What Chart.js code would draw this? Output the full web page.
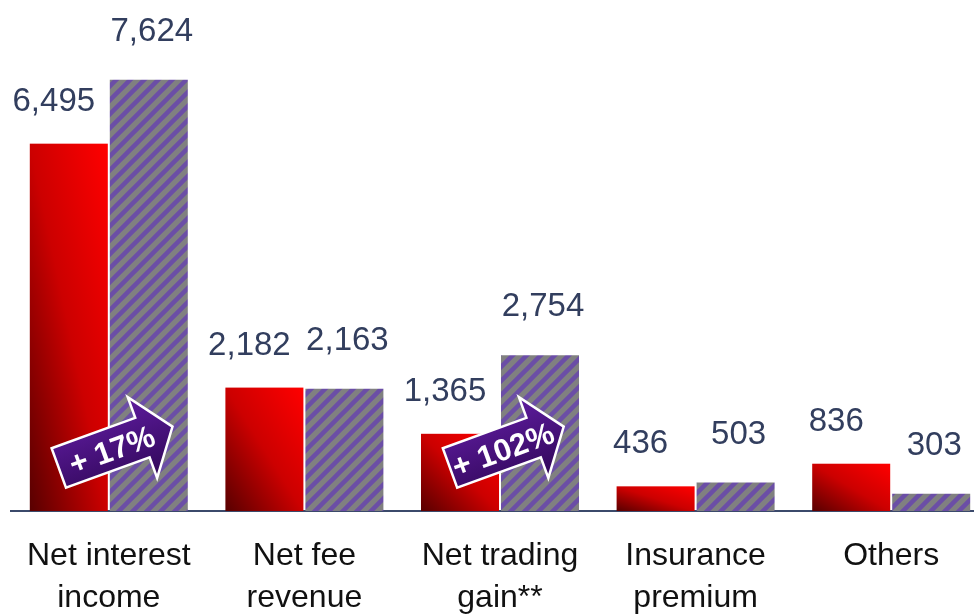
<!DOCTYPE html>
<html>
<head>
<meta charset="utf-8">
<script src="https://cdn.jsdelivr.net/npm/chart.js@4.4.0/dist/chart.umd.min.js"></script>
<style>
html,body{margin:0;padding:0;background:#fff;overflow:hidden}
#wrap{width:989px;height:614px}
</style>
</head>
<body>
<div id="wrap"><canvas id="mycanvas"></canvas></div>
<script>
var categories = [['Net interest','income'],['Net fee','revenue'],['Net trading','gain**'],['Insurance','premium'],['Others']];
var previous = [6495, 2182, 1365, 436, 836];
var current = [7624, 2163, 2754, 503, 303];
var growth = ['+ 17%', '', '+ 102%', '', ''];

var FONT = "'Liberation Sans', Arial, sans-serif";
Chart.defaults.font.family = FONT;

var canvas = document.getElementById('mycanvas');
var c2d = canvas.getContext('2d');

// grey tile with purple diagonal stripes
function makeStripes(){
	var t = document.createElement('canvas');
	t.width = 14; t.height = 14;
	var g = t.getContext('2d');
	g.fillStyle = '#808080';
	g.fillRect(0,0,14,14);
	g.strokeStyle = '#6b4ea6';
	g.lineWidth = 4.5;
	g.beginPath();
	g.moveTo(-7,7); g.lineTo(7,-7);
	g.moveTo(0,14); g.lineTo(14,0);
	g.moveTo(7,21); g.lineTo(21,7);
	g.stroke();
	return c2d.createPattern(t,'repeat');
}

// red bars: diagonal gradient, dark bottom-left to bright top-right
var redBars = {
	id:'redBars',
	beforeDatasetDraw:function(chart,args){
		if(args.index !== 0) return;
		var ctx = chart.ctx;
		args.meta.data.forEach(function(el){
			var w = el.width, h = el.base - el.y;
			var x0 = el.x - w/2, y0 = el.base;
			var k = 2*w*h/(h*h + w*w);
			var g = ctx.createLinearGradient(x0, y0, x0 + k*h, y0 - k*w);
			g.addColorStop(0,'#580000');
			g.addColorStop(0.5,'#cc0000');
			g.addColorStop(1,'#ff0000');
			ctx.fillStyle = g;
			ctx.fillRect(x0, el.y, w, h);
		});
		return false;
	}
};

var valueLabels = {
	id:'valueLabels',
	afterDatasetsDraw:function(chart){
		var ctx = chart.ctx;
		ctx.save();
		ctx.font = '33px ' + FONT;
		ctx.fillStyle = '#323e5e';
		ctx.textAlign = 'center';
		ctx.textBaseline = 'middle';
		chart.data.datasets.forEach(function(ds,i){
			var meta = chart.getDatasetMeta(i);
			var dx = i === 0 ? -15 : 3;
			var lift = i === 0 ? 42 : 48;
			meta.data.forEach(function(el,j){
				ctx.fillText(ds.data[j].toLocaleString('en-US'), el.x + dx, el.y - lift);
			});
		});
		ctx.restore();
	}
};

function drawArrow(ctx, ox, oy, ang, text){
	ctx.save();
	ctx.translate(ox, oy);
	ctx.rotate(ang);
	ctx.beginPath();
	ctx.moveTo(0,-21); ctx.lineTo(89,-21); ctx.lineTo(89,-43);
	ctx.lineTo(121,0);
	ctx.lineTo(89,43); ctx.lineTo(89,21); ctx.lineTo(0,21);
	ctx.closePath();
	var g = ctx.createLinearGradient(0,-43,0,43);
	g.addColorStop(0,'#5e1c9e');
	g.addColorStop(1,'#300758');
	ctx.fillStyle = g;
	ctx.fill();
	ctx.lineWidth = 2.5;
	ctx.strokeStyle = '#fff';
	ctx.lineJoin = 'miter';
	ctx.stroke();
	ctx.fillStyle = '#fff';
	ctx.font = 'bold 31px ' + FONT;
	ctx.textAlign = 'center';
	ctx.textBaseline = 'middle';
	ctx.fillText(text, 56, 3);
	ctx.restore();
}

var growthArrows = {
	id:'growthArrows',
	afterDatasetsDraw:function(chart){
		var meta = chart.getDatasetMeta(0);
		growth.forEach(function(t,j){
			if(!t) return;
			var el = meta.data[j];
			drawArrow(chart.ctx, el.x - 10, el.base - 43, -20*Math.PI/180, t);
		});
	}
};

var chartdata = {
	labels:categories,
	datasets:[
		{ label:'Previous', data:previous, backgroundColor:'#d00000', categoryPercentage:0.818, barPercentage:0.975 },
		{ label:'Current', data:current, backgroundColor:makeStripes(), categoryPercentage:0.818, barPercentage:0.975 }
	]
};

new Chart(canvas,{
	type:'bar',
	data:chartdata,
	options:{
		responsive:true,
		maintainAspectRatio:false,
		animation:false,
		layout:{ padding:{ left:11, top:2, right:0, bottom:0 } },
		plugins:{ legend:{display:false}, tooltip:{enabled:false} },
		scales:{
			x:{
				grid:{display:false},
				border:{display:true, color:'#3b4a6b', width:2},
				ticks:{ color:'#111', font:{size:32, lineHeight:1.3125}, padding:16, maxRotation:0, autoSkip:false },
				afterFit:function(s){ s.height = 103; }
			},
			y:{ display:false, min:0, max:9000 }
		}
	},
	plugins:[redBars, valueLabels, growthArrows]
});
</script>
</body>
</html>
